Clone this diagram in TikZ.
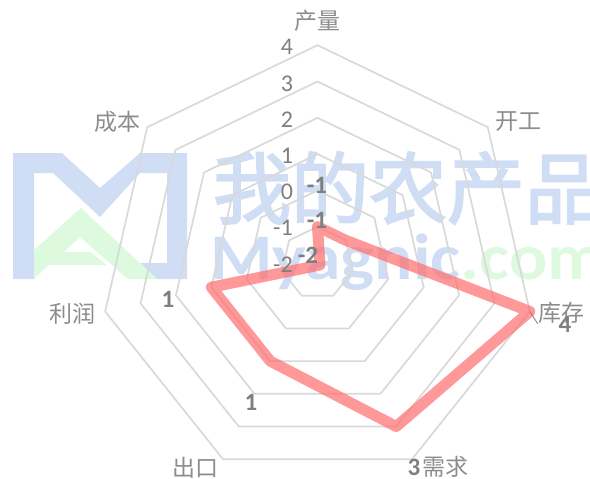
\documentclass[tikz,border=0pt]{standalone}
\usepackage{fontspec}
\setmainfont{Carlito}
\newfontfamily\cjk{Noto Sans CJK SC}
\newfontfamily\cjkwm[FakeBold=2.6]{Noto Sans CJK SC}
\usetikzlibrary{calc}
\definecolor{wblue}{HTML}{CFDEF5}
\definecolor{wgreen}{HTML}{DDFADF}
\definecolor{gridc}{HTML}{D9D9D9}
\definecolor{txtc}{HTML}{7F7F7F}
\definecolor{cattxt}{HTML}{8C8C8C}
\definecolor{pinkc}{HTML}{FF7070}
\tikzset{
  x=1pt,y=-1pt,
  gridring/.style={draw=gridc,line width=1.7pt,line join=miter},
  series/.style={draw=pinkc,line width=11pt,line join=round,draw opacity=0.72},
  axislab/.style={text=txtc,font=\fontsize{24}{24}\selectfont,inner sep=0pt},
  datalab/.style={text=txtc,font=\fontsize{25}{25}\selectfont\bfseries,inner sep=0pt},
  catlab/.style={text=cattxt,font=\fontsize{23}{23}\selectfont\cjk,inner sep=0pt},
}
\begin{document}
\begin{tikzpicture}
\useasboundingbox[clip] (0,0) rectangle (590,479);
% watermark
\fill[wblue] (13,153)--(62,153)--(100,188)--(140,153)--(187,153)--(187,279)--(157,279)--(140,263)--(167,263)--(167,173)--(140,173)--(100,217)--(53,173)--(34,173)--(34,279)--(13,279)--cycle;
\fill[wgreen] (81,208)--(157,279)--(128,279)--(80,237)--(64,252)--(90,252)--(107,265)--(49,265)--(34,279)--(34,250)--cycle;
\node[text=wblue,font=\fontsize{78}{78}\selectfont\cjkwm,inner sep=0pt,anchor=center] (wmcn) at (408,188) {我的农产品};
\node[font=\fontsize{65}{65}\selectfont\bfseries,inner sep=0pt,anchor=base west] (wmen) at (210,279) {\scalebox{1.1}[1]{\textcolor{wblue}{Myagnic}\textcolor{wgreen}{.com}}};
% chart
\coordinate (c) at (317.5,263);
\foreach \l in {1,...,6}{
  \pgfmathsetmacro{\r}{36.3*\l}
  \foreach \i in {0,...,6}{
    \coordinate (r\l-\i) at ($(c)+({-90+\i*360/7}:\r)$);
  }
  \draw[gridring] (r\l-0)--(r\l-1)--(r\l-2)--(r\l-3)--(r\l-4)--(r\l-5)--(r\l-6)--cycle;
}
\coordinate (s0) at (r1-0);
\coordinate (s1) at (r1-1);
\coordinate (s2) at (r6-2);
\coordinate (s3) at (r5-3);
\coordinate (s4) at (r3-4);
\coordinate (s5) at (r3-5);
\coordinate (s6) at (320,265);
\draw[series] (s0)--(s1)--(s2)--(s3)--(s4)--(s5)--(s6)--cycle;
% category labels
\node[catlab] (cat0) at (317,21) {产量};
\node[catlab] (cat1) at (518,122) {开工};
\node[catlab] (cat2) at (561,313) {库存};
\node[catlab] (cat3) at (445,467) {需求};
\node[catlab] (cat4) at (195,468) {出口};
\node[catlab] (cat5) at (72,314) {利润};
\node[catlab] (cat6) at (117,122) {成本};
\draw[draw=txtc,line width=0.8pt] (r6-2)--(cat2.south west);
% axis labels
\node[axislab] (a4) at (287,47) {4};
\node[axislab] (a3) at (287,84) {3};
\node[axislab] (a2) at (287,120) {2};
\node[axislab] (a1) at (287,156) {1};
\node[axislab] (a0) at (287,192) {0};
\node[axislab] (am1) at (283,228) {-1};
\node[axislab] (am2) at (283,265) {-2};
% data labels
\node[datalab] (d0) at (317,185) {-1};
\node[datalab] (d1) at (317,220) {-1};
\node[datalab] (d2) at (565,324) {4};
\node[datalab] (d3) at (414,467) {3};
\node[datalab] (d4) at (251,402) {1};
\node[datalab] (d5) at (168,299) {1};
\node[datalab] (d6) at (308,255) {-2};
\end{tikzpicture}
\end{document}
